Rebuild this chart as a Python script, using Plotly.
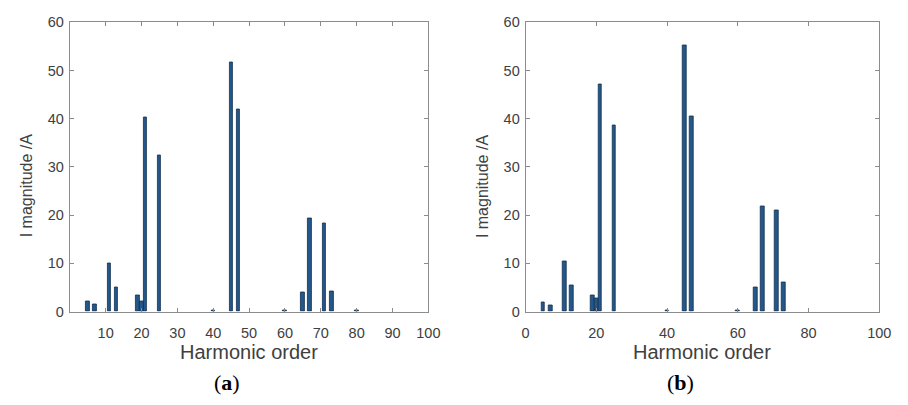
import plotly.graph_objects as go

# Harmonic orders and magnitudes (A)
orders_a = [5, 7, 11, 13, 19, 20, 21, 25, 40, 45, 47, 60, 65, 67, 71, 73, 80]
mag_a = [2.1, 1.5, 10.0, 5.0, 3.3, 2.0, 40.2, 32.3, 0.3, 51.6, 42.0, 0.3, 4.0, 19.4, 18.2, 4.25, 0.2]

orders_b = [5, 7, 11, 13, 19, 20, 21, 25, 40, 45, 47, 60, 65, 67, 71, 73]
mag_b = [1.9, 1.2, 10.3, 5.4, 3.3, 2.7, 47.1, 38.7, 0.3, 55.3, 40.4, 0.2, 5.0, 21.9, 20.9, 6.0]

xticks_a = [10, 20, 30, 40, 50, 60, 70, 80, 90, 100]
xticks_b = [0, 20, 40, 60, 80, 100]
yticks = [0, 10, 20, 30, 40, 50, 60]

W, H = 908, 405
BAR = "#24578a"
EDGE = "#12304f"
AXC = "#8c8c8c"
TXT = "#404040"
FONT = "Liberation Sans, Arial, sans-serif"

fig = go.Figure()
fig.add_trace(go.Bar(x=orders_a, y=mag_a, width=1.0, marker=dict(color=BAR, line=dict(color=EDGE, width=0.8)),
                     xaxis="x", yaxis="y", showlegend=False))
fig.add_trace(go.Bar(x=orders_b, y=mag_b, width=1.0, marker=dict(color=BAR, line=dict(color=EDGE, width=0.8)),
                     xaxis="x2", yaxis="y2", showlegend=False))

ydom = [1 - 316 / H, 1 - 15 / H]
common_ax = dict(showline=True, linecolor=AXC, linewidth=1, mirror="ticks", ticks="inside",
                 ticklen=4, tickcolor=AXC, showgrid=False, zeroline=False,
                 tickfont=dict(family=FONT, size=14.5, color=TXT))

fig.update_layout(
    width=W, height=H, margin=dict(l=0, r=0, t=0, b=0),
    paper_bgcolor="white", plot_bgcolor="white", bargap=0,
    xaxis=dict(domain=[67 / W, 432 / W], range=[0, 100], tickvals=xticks_a, anchor="y",
               ticklabelstandoff=8, **common_ax),
    yaxis=dict(domain=ydom, range=[0, 60], tickvals=yticks, anchor="x", ticklabelstandoff=2, **common_ax),
    xaxis2=dict(domain=[531 / W, 891 / W], range=[0, 100], tickvals=xticks_b, anchor="y2",
                ticklabelstandoff=8, **common_ax),
    yaxis2=dict(domain=ydom, range=[0, 60], tickvals=yticks, anchor="x2", ticklabelstandoff=2, **common_ax),
)

annots = []
for xc, yl_x, lab in [((67 + 432) / 2, 23, "(<b>a</b>)"), ((531 + 891) / 2, 487, "(<b>b</b>)")]:
    annots.append(dict(x=xc / W, y=1 - 358 / H, xref="paper", yref="paper", text="Harmonic order",
                       showarrow=False, font=dict(family=FONT, size=20, color=TXT), xanchor="center", yanchor="middle"))
    annots.append(dict(x=(xc - 22) / W, y=1 - 390 / H, xref="paper", yref="paper", text=lab,
                       showarrow=False, font=dict(family="Liberation Serif, serif", size=22, color="black"),
                       xanchor="center", yanchor="middle"))
    annots.append(dict(x=yl_x / W, y=1 - 185 / H, xref="paper", yref="paper", text="I magnitude /A",
                       showarrow=False, textangle=-90, font=dict(family=FONT, size=16, color=TXT),
                       xanchor="center", yanchor="middle"))
fig.update_layout(annotations=annots)

fig.write_html("out.html")
